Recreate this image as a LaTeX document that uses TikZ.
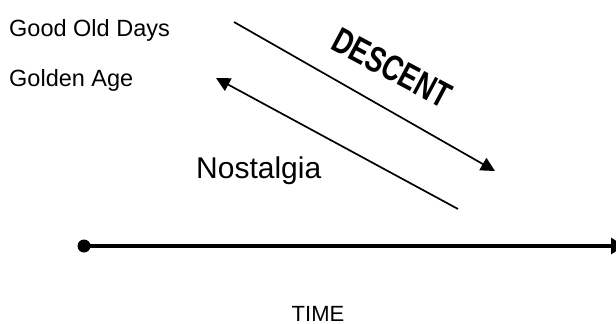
\documentclass[tikz,border=0pt]{standalone}
\usepackage{fontspec}
\setmainfont{Liberation Sans}
\usetikzlibrary{arrows.meta}
\begin{document}
\begin{tikzpicture}[x=1pt,y=-1pt,
  lbl/.style={inner sep=0pt,font=\fontsize{23.5}{26}\selectfont},
  diag/.style={line width=1.7pt},
  tri/.style={-{Triangle[width=14pt,length=14pt]}},
  axis/.style={line width=4pt}]
\useasboundingbox (0,0) rectangle (616,324);
\clip (0,0) rectangle (616,324);
\node[lbl,anchor=base west] (good) at (9,36) {Good Old Days};
\node[lbl,anchor=base west] (golden) at (9,86) {Golden Age};
\coordinate (ds) at (234,22);
\coordinate (de) at (495,171);
\draw[diag,tri] (ds) -- (de);
\coordinate (ns) at (458,209);
\coordinate (ne) at (216,78);
\draw[diag,tri] (ns) -- (ne);
\node[inner sep=0pt,rotate=-28,font=\bfseries\fontsize{30}{32}\selectfont] (descent) at (392,68) {\scalebox{0.9}[1.2]{DESCENT}};
\node[inner sep=0pt,anchor=base west,font=\fontsize{30}{32}\selectfont] (nost) at (196,178) {Nostalgia};
\node[circle,fill=black,inner sep=0pt,minimum size=13pt] (t0) at (84,246) {};
\coordinate (t1) at (624,246);
\draw[axis,-{Triangle[width=16pt,length=13pt]}] (t0.center) -- (t1);
\node[inner sep=0pt,anchor=base,font=\fontsize{22}{24}\selectfont] (time) at (318,321) {TIME};
\end{tikzpicture}
\end{document}
